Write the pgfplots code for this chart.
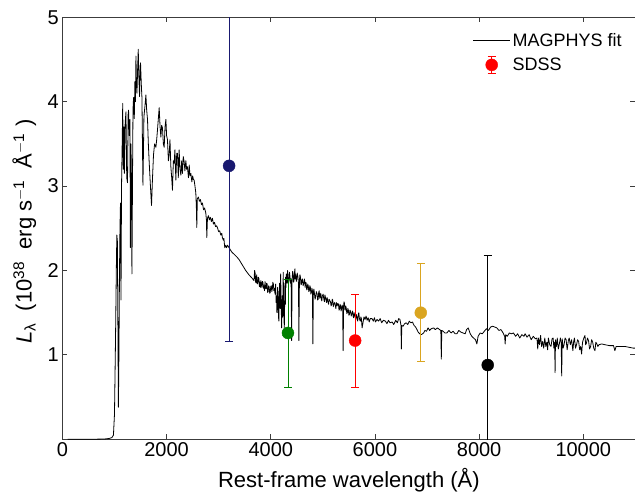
\documentclass[border=0pt]{standalone}
\usepackage{fontspec}
\setmainfont{Liberation Sans}
\usepackage{pgfplots}
\usepackage{pgfplotstable}
\pgfplotsset{compat=1.18}

\definecolor{sdssnavy}{RGB}{25,25,112}
\definecolor{sdssgreen}{RGB}{0,128,0}
\definecolor{sdssred}{RGB}{255,0,0}
\definecolor{sdssgold}{RGB}{218,165,32}
\definecolor{spinegray}{RGB}{60,60,60}

% MAGPHYS best-fit model spectrum (rest frame)
\pgfplotstableread{
lam L
100 0
500 0
800 0.003
900 0.01
950 0.02
980 0.05
1000 0.3
1020 1.2
1035 2.0
1045 2.42
1055 2.35
1065 1.4
1075 0.38
1085 1.0
1095 1.9
1105 2.5
1115 2.8
1125 1.65
1135 2.99
1150 3.6
1158 3.98
1168 3.2
1180 3.7
1190 3.15
1205 3.75
1220 3.88
1235 3.1
1250 3.04
1262 3.85
1270 3.9
1285 3.6
1297 3.79
1305 2.27
1316 3.5
1325 3.1
1335 1.96
1345 3.0
1355 3.9
1366 4.05
1380 3.8
1392 4.24
1402 4.0
1412 4.54
1422 4.2
1431 4.1
1445 4.4
1456 4.62
1468 4.3
1481 4.06
1490 4.35
1500 4.46
1515 4.2
1527 4.05
1537 3.5
1546 3.01
1556 3.4
1565 3.82
1585 3.95
1603 4.08
1618 3.9
1634 3.79
1650 3.5
1667 3.27
1690 3.0
1711 2.77
1730 3.1
1749 3.37
1770 3.5
1795 3.46
1810 3.55
1826 3.67
1842 3.8
1858 3.93
1875 3.7
1891 3.58
1905 3.72
1921 3.69
1938 3.5
1954 3.46
1970 3.7
1987 3.79
2000 3.6
2017 3.55
2035 3.3
2050 3.37
2065 3.55
2082 3.23
2098 3.1
2113 2.95
2130 3.3
2146 3.27
2160 3.43
2178 3.07
2195 3.39
2209 3.39
2225 3.1
2241 3.43
2258 3.2
2274 3.13
2290 3.3
2305 3.15
2320 3.35
2337 3.29
2352 3.18
2370 3.3
2385 3.2
2400 3.23
2420 3.1
2435 3.25
2450 3.12
2466 3.15
2485 3.05
2500 3.12
2515 3.08
2529 3.07
2545 3.0
2561 2.92
2572 2.75
2580 2.51
2590 2.85
2611 2.87
2630 2.82
2650 2.84
2670 2.78
2688 2.8
2710 2.72
2730 2.74
2753 2.68
2765 2.6
2772 2.39
2785 2.62
2803 2.65
2820 2.6
2840 2.63
2860 2.58
2879 2.62
2900 2.55
2920 2.57
2940 2.52
2960 2.53
2975 2.51
3000 2.46
3020 2.47
3040 2.42
3060 2.44
3071 2.39
3090 2.36
3100 2.38
3117 2.27
3135 2.3
3150 2.27
3170 2.3
3199 2.27
3250 2.22
3300 2.19
3350 2.16
3391 2.13
3450 2.07
3519 2.0
3580 1.95
3640 1.91
3678 1.88
3690 2.0
3700 1.97
3708 1.86
3715 1.93
3722 1.85
3730 1.95
3740 1.86
3750 1.84
3762 1.92
3774 1.9
3782 1.81
3790 1.86
3800 1.8
3810 1.88
3820 1.83
3830 1.8
3840 1.87
3850 1.86
3860 1.79
3870 1.82
3880 1.76
3890 1.87
3900 1.8
3910 1.78
3920 1.85
3930 1.84
3940 1.74
3950 1.75
3960 1.82
3970 1.8
3980 1.73
3990 1.74
4000 1.81
4010 1.82
4020 1.75
4030 1.78
4040 1.86
4050 1.84
4060 1.76
4070 1.79
4082 1.72
4094 1.84
4102 1.62
4110 1.7
4118 1.5
4125 1.56
4132 1.8
4140 1.72
4148 1.45
4157 1.40
4163 1.7
4170 1.85
4180 1.55
4190 1.96
4200 1.6
4209 1.32
4215 1.5
4220 1.7
4230 1.45
4239 1.98
4245 1.7
4250 1.5
4260 1.32
4272 1.85
4280 1.6
4285 1.92
4292 1.8
4300 1.96
4308 1.86
4315 1.85
4322 2.0
4330 1.95
4340 1.84
4349 1.88
4360 1.98
4370 1.92
4380 1.85
4390 1.9
4400 1.17
4410 1.9
4420 1.99
4430 1.96
4440 1.86
4450 1.9
4457 1.98
4464 2.02
4472 1.9
4480 1.95
4490 1.87
4498 1.9
4508 1.97
4520 1.93
4532 1.85
4540 1.17
4550 1.88
4560 1.95
4570 1.92
4580 1.83
4590 1.84
4600 1.9
4610 1.9
4622 1.82
4636 1.86
4648 1.9
4660 1.8
4670 1.86
4680 1.85
4690 1.77
4700 1.78
4710 1.84
4720 1.82
4730 1.75
4740 1.76
4750 1.82
4760 1.8
4770 1.72
4780 1.74
4790 1.79
4800 1.76
4808 1.13
4818 1.74
4828 1.78
4840 1.72
4850 1.66
4860 1.68
4875 1.75
4891 1.72
4900 1.65
4910 1.66
4920 1.74
4930 1.76
4940 1.67
4950 1.7
4960 1.73
4970 1.66
4980 1.64
4990 1.7
5005 1.72
5019 1.66
5030 1.63
5040 1.71
5050 1.68
5060 1.65
5070 1.62
5080 1.68
5090 1.66
5100 1.62
5110 1.6
5120 1.66
5135 1.64
5147 1.63
5158 1.58
5170 1.6
5180 1.66
5190 1.65
5200 1.57
5210 1.6
5225 1.62
5240 1.58
5250 1.55
5260 1.62
5274 1.58
5288 1.61
5300 1.6
5310 1.53
5320 1.54
5330 1.6
5340 1.58
5350 1.52
5360 1.55
5370 1.59
5380 1.57
5389 1.05
5398 1.58
5406 1.63
5415 1.61
5422 1.54
5430 1.53
5440 1.58
5450 1.55
5460 1.49
5470 1.5
5480 1.55
5490 1.53
5500 1.47
5510 1.48
5520 1.53
5530 1.52
5545 1.46
5561 1.5
5570 1.52
5580 1.46
5590 1.44
5600 1.5
5610 1.47
5620 1.45
5630 1.42
5640 1.48
5650 1.46
5660 1.42
5670 1.4
5680 1.48
5690 1.5
5700 1.44
5710 1.41
5720 1.4
5730 1.45
5740 1.43
5753 1.32
5770 1.38
5790 1.45
5810 1.42
5830 1.46
5850 1.41
5870 1.44
5890 1.39
5910 1.43
5945 1.43
5970 1.4
5990 1.44
6010 1.39
6040 1.42
6070 1.4
6100 1.43
6130 1.38
6160 1.41
6201 1.40
6230 1.37
6260 1.41
6290 1.38
6330 1.39
6360 1.36
6400 1.41
6430 1.38
6456 1.43
6480 1.42
6500 1.35
6507 1.07
6515 1.35
6540 1.34
6570 1.37
6600 1.38
6630 1.36
6660 1.4
6690 1.38
6720 1.39
6750 1.35
6780 1.33
6807 1.30
6830 1.27
6860 1.25
6890 1.24
6935 1.26
6960 1.29
6990 1.28
7020 1.32
7050 1.29
7080 1.31
7126 1.32
7160 1.30
7200 1.32
7240 1.3
7265 1.29
7274 0.95
7283 1.29
7310 1.28
7340 1.26
7381 1.26
7420 1.29
7460 1.26
7500 1.28
7540 1.25
7573 1.25
7610 1.29
7650 1.27
7690 1.26
7733 1.25
7760 1.3
7790 1.32
7830 1.25
7860 1.22
7893 1.2
7930 1.18
7957 1.13
7980 1.22
8020 1.26
8060 1.25
8100 1.28
8140 1.31
8180 1.29
8220 1.33
8260 1.34
8300 1.33
8340 1.32
8380 1.29
8420 1.3
8460 1.26
8490 1.22
8500 1.13
8510 1.24
8540 1.22
8580 1.26
8620 1.25
8659 1.26
8700 1.22
8740 1.25
8780 1.2
8820 1.24
8860 1.22
8883 1.25
8920 1.21
8960 1.24
9000 1.18
9040 1.22
9080 1.19
9110 1.2
9125 1.07
9140 1.2
9160 1.12
9180 1.23
9200 1.1
9220 1.16
9240 1.08
9260 1.2
9280 1.1
9300 1.15
9315 1.06
9330 1.2
9355 1.12
9380 1.1
9400 1.19
9420 1.2
9435 1.08
9450 1.15
9458 0.79
9466 1.18
9485 1.1
9500 1.2
9520 1.07
9540 1.13
9560 1.2
9575 1.15
9585 0.75
9595 1.19
9612 1.08
9630 1.12
9650 1.2
9670 1.18
9690 1.06
9713 1.17
9730 1.2
9750 1.12
9775 1.18
9800 1.05
9815 1.16
9830 1.2
9850 1.08
9870 1.12
9890 1.18
9910 1.16
9930 1.06
9950 1.1
9967 1.01
9985 1.15
10010 1.2
10032 1.23
10045 1.12
10060 1.14
10080 1.2
10100 1.17
10120 1.07
10140 1.1
10160 1.18
10180 1.15
10200 1.08
10224 1.05
10240 1.15
10260 1.13
10280 1.1
10300 1.12
10350 1.13
10420 1.12
10500 1.11
10580 1.11
10606 1.05
10630 1.1
10720 1.1
10800 1.1
10880 1.09
10960 1.08
11000 1.08
}\magphys

\pgfplotsset{
  sdss/.style={
    only marks, mark=*, mark size=6pt, color=#1,
    mark options={fill=#1, draw=#1},
    error bars/.cd, y dir=both, y explicit,
    error bar style={line width=0.8pt, #1},
    error mark options={rotate=90, mark size=4pt, line width=0.8pt, #1}
  }
}

\begin{document}
\begin{tikzpicture}
\begin{axis}[
  width=573pt, height=422pt, scale only axis,
  xmin=0, xmax=11000, ymin=0, ymax=5,
  xtick={0,2000,4000,6000,8000,10000},
  ytick={1,2,3,4,5},
  scaled x ticks=false,
  tick align=inside,
  major tick length=5pt,
  axis line style={spinegray, line width=0.8pt},
  every tick/.style={spinegray, line width=0.8pt},
  ticklabel style={font=\fontsize{20}{24}\selectfont},
  /pgf/number format/assume math mode=true,
  /pgf/number format/1000 sep={},
  xlabel={Rest-frame wavelength (Å)},
  ylabel={\textit{L}\textsubscript{λ}\ \ (10\textsuperscript{38}\ \ erg s\textsuperscript{$-$1}\ \ Å\textsuperscript{$-$1}\ )},
  every axis x label/.style={at={(rel axis cs:0.5,0)}, yshift=-41pt, anchor=center,
    font=\fontsize{22}{26}\selectfont},
  every axis y label/.style={at={(rel axis cs:0,0.492)}, xshift=-38pt, rotate=90, anchor=center,
    font=\fontsize{22}{26}\selectfont},
  legend style={at={(0.985,0.972)}, anchor=north east, draw=none, fill=none,
    font=\fontsize{18}{22}\selectfont, row sep=6pt},
  legend cell align=left,
]
\addplot[black, line width=0.8pt, line join=round,
  legend image code/.code={\draw[black, line width=0.8pt] (0pt,0pt) -- (37pt,0pt);}]
  table[x=lam, y=L] {\magphys};
\addlegendentry{MAGPHYS fit}
\addlegendimage{legend image code/.code={
  \draw[sdssred, line width=0.8pt] (18.5pt,-8.5pt) -- (18.5pt,8.5pt);
  \draw[sdssred, line width=0.8pt] (14.5pt,-8.5pt) -- (22.5pt,-8.5pt);
  \draw[sdssred, line width=0.8pt] (14.5pt,8.5pt) -- (22.5pt,8.5pt);
  \fill[sdssred] (18.5pt,0pt) circle (6pt);}}
\addlegendentry{SDSS}

% SDSS photometry: u g r i z
\addplot[forget plot, sdss=sdssnavy] coordinates {(3200,3.24) +- (0,2.08)};
\addplot[forget plot, sdss=sdssgreen] coordinates {(4330,1.26) +- (0,0.64)};
\addplot[forget plot, sdss=sdssred] coordinates {(5620,1.17) +- (0,0.55)};
\addplot[forget plot, sdss=sdssgold] coordinates {(6880,1.50) +- (0,0.58)};
\addplot[forget plot, sdss=black] coordinates {(8165,0.88) +- (0,1.30)};
\end{axis}
\pgfresetboundingbox
\path (-62.4pt,-54.7pt) rectangle (572.6pt,439.3pt);
\end{tikzpicture}
\end{document}
